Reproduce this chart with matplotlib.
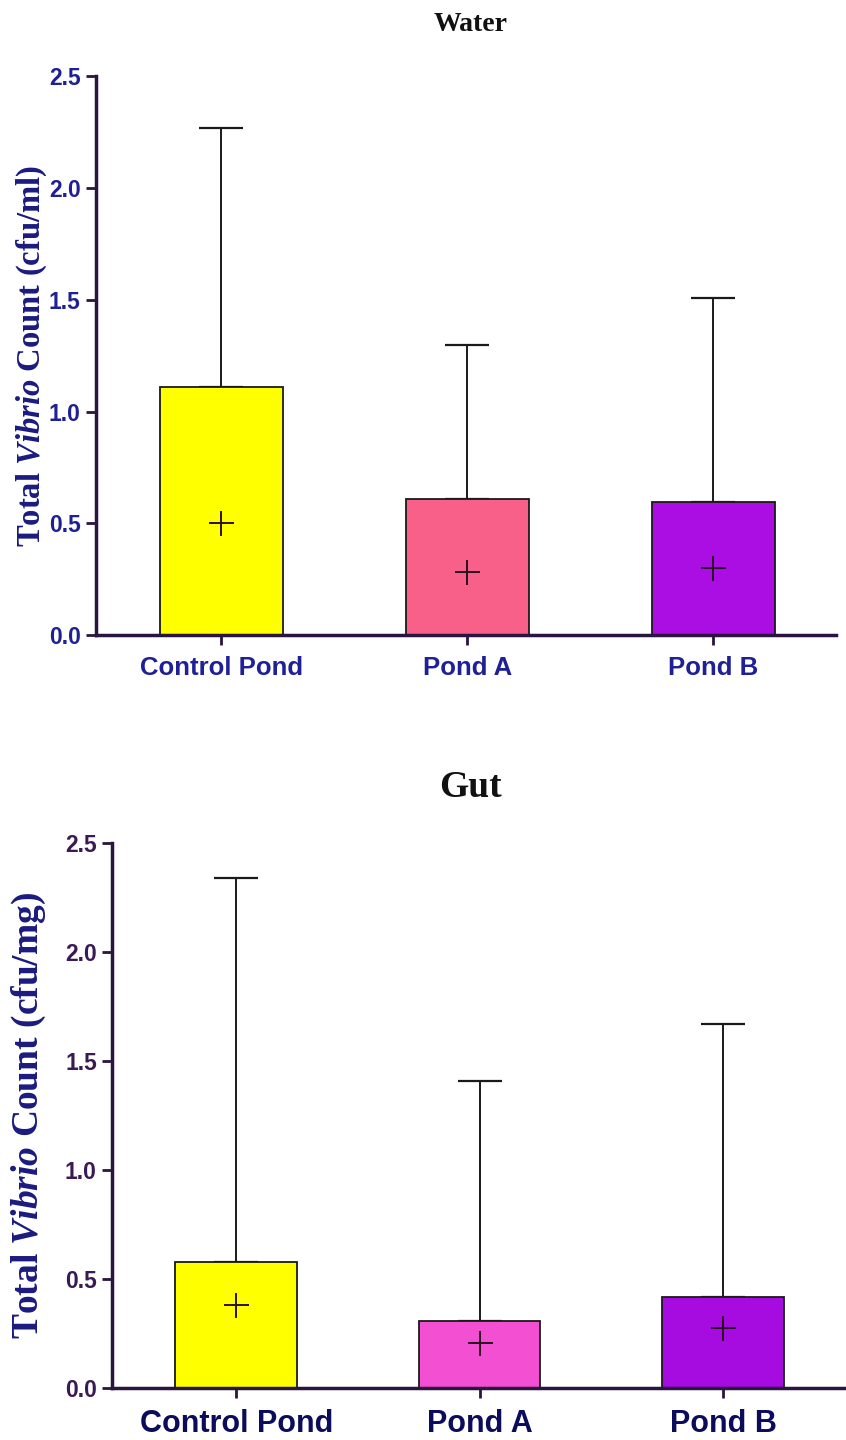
import matplotlib.pyplot as plt
import numpy as np

plt.rcParams['mathtext.fontset'] = 'custom'
plt.rcParams['mathtext.it'] = 'Liberation Serif:italic:bold'
plt.rcParams['mathtext.rm'] = 'Liberation Serif:bold'

# data
ponds = ['Control Pond', 'Pond A', 'Pond B']

water_mean = [1.11, 0.61, 0.595]
water_upper = [2.27, 1.30, 1.51]
water_plus = [0.50, 0.28, 0.30]
water_colors = ['#ffff00', '#f8608a', '#aa0ee2']

gut_mean = [0.58, 0.31, 0.42]
gut_upper = [2.34, 1.41, 1.67]
gut_plus = [0.38, 0.205, 0.275]
gut_colors = ['#ffff00', '#f24fd2', '#a60ce0']

yticks = [0.0, 0.5, 1.0, 1.5, 2.0, 2.5]

fig = plt.figure(figsize=(8.46, 14.4), dpi=100)

spine_col = '#2a1440'


def panel(ax, mean, upper, plus, colors, title, ylab, tick_col, xlab_col,
          tick_fs, xlab_fs, ylab_fs, title_fs, ylab_x, title_y):
    x = np.arange(len(ponds))
    ax.bar(x, mean, width=0.5, color=colors, edgecolor='#1a1a1a', linewidth=1.3, zorder=2)
    err = [np.zeros(len(mean)), np.array(upper) - np.array(mean)]
    ax.errorbar(x, mean, yerr=err, fmt='none', ecolor='#1a1a1a', elinewidth=1.4,
                capsize=16, capthick=1.6, zorder=1)
    ax.plot(x, plus, linestyle='none', marker='+', markersize=18, mew=1.4,
            color='#2a1020', zorder=4)
    ax.set_xlim(-0.51, 2.5)
    ax.set_ylim(0, 2.5)
    ax.set_yticks(yticks)
    ax.set_yticklabels([f'{v:.1f}' for v in yticks])
    ax.set_xticks(x)
    ax.set_xticklabels(ponds)
    for s in ['top', 'right']:
        ax.spines[s].set_visible(False)
    for s in ['left', 'bottom']:
        ax.spines[s].set_color(spine_col)
        ax.spines[s].set_linewidth(2.5)
    ax.tick_params(axis='both', direction='out', length=7, width=2, color=spine_col)
    ax.tick_params(axis='y', labelcolor=tick_col, labelsize=tick_fs, pad=4)
    ax.tick_params(axis='x', labelcolor=xlab_col, labelsize=xlab_fs, pad=8)
    for lab in ax.get_yticklabels() + ax.get_xticklabels():
        lab.set_fontweight('bold')
        lab.set_family('Liberation Sans')
    fig.text(ylab_x, (ax.get_position().y0 + ax.get_position().y1) / 2, ylab,
             rotation=90, ha='center', va='center', fontsize=ylab_fs,
             color='#1a1a80', family='Liberation Serif', fontweight='bold')
    fig.text(0.556, title_y, title, ha='center', va='center', fontsize=title_fs,
             family='Liberation Serif', fontweight='bold', color='#111111')


ax1 = fig.add_axes([0.1135, 0.559, 0.875, 0.388])
panel(ax1, water_mean, water_upper, water_plus, water_colors, 'Water',
      r'Total $\mathit{Vibrio}$ Count (cfu/ml)', '#1f1f96', '#1f1f96',
      16.5, 18.5, 23.5, 20, 0.038, 0.983)

ax2 = fig.add_axes([0.1325, 0.036, 0.866, 0.3786])
panel(ax2, gut_mean, gut_upper, gut_plus, gut_colors, 'Gut',
      r'Total $\mathit{Vibrio}$ Count (cfu/mg)', '#3a1a52', '#0c0c5c',
      16.5, 22, 27, 27, 0.034, 0.453)

fig.savefig('out.png', dpi=100)
